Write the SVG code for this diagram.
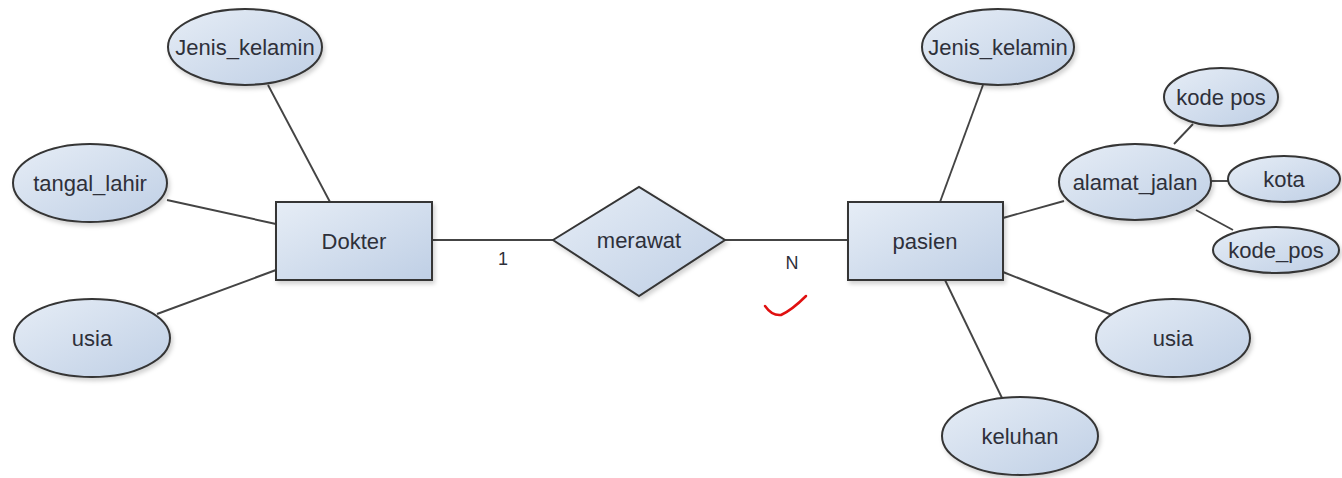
<svg xmlns="http://www.w3.org/2000/svg" width="1342" height="478" viewBox="0 0 1342 478">
<defs>
<linearGradient id="g" x1="0" y1="0" x2="1" y2="1">
<stop offset="0" stop-color="#e6edf6"/>
<stop offset="1" stop-color="#bfcfe5"/>
</linearGradient>
<filter id="sh" x="-10%" y="-10%" width="130%" height="140%">
<feDropShadow dx="2" dy="3" stdDeviation="2" flood-color="#000" flood-opacity="0.18"/>
</filter>
</defs>
<style>
.shape{fill:url(#g);stroke:#353535;stroke-width:2;filter:url(#sh)}
.conn line{stroke:#444;stroke-width:1.9}
text{font-family:"Liberation Sans",Arial,sans-serif;font-size:22px;fill:#2e303a;text-anchor:middle}
.card{font-size:18px}
</style>
<rect width="1342" height="478" fill="#fff"/>
<g id="connectors" class="conn">
<line x1="268" y1="85" x2="330" y2="202"/>
<line x1="167" y1="200" x2="276" y2="224"/>
<line x1="157" y1="314" x2="276" y2="270"/>
<line x1="432" y1="240" x2="553" y2="240"/>
<line x1="725" y1="240" x2="848" y2="240"/>
<line x1="983" y1="85" x2="940" y2="202"/>
<line x1="1003" y1="218" x2="1064" y2="201"/>
<line x1="1174" y1="144" x2="1193" y2="124"/>
<line x1="1211" y1="181" x2="1229" y2="181"/>
<line x1="1196" y1="210" x2="1233" y2="230"/>
<line x1="1003" y1="272" x2="1112" y2="315"/>
<line x1="945" y1="280" x2="1002" y2="398"/>
</g>
<g id="jk_dokter"><ellipse class="shape" cx="245" cy="47" rx="77" ry="38"/><text x="245" y="55">Jenis_kelamin</text></g>
<g id="tanggal_lahir"><ellipse class="shape" cx="90" cy="183" rx="77" ry="39"/><text x="90" y="191">tangal_lahir</text></g>
<g id="usia_dokter"><ellipse class="shape" cx="92" cy="338" rx="78" ry="39"/><text x="92" y="346">usia</text></g>
<g id="dokter"><rect class="shape" x="276" y="202" width="156" height="78"/><text x="354" y="249">Dokter</text></g>
<g id="merawat"><polygon class="shape" points="553,240 639,187 725,240 639,296"/><text x="639" y="248">merawat</text></g>
<g id="card1"><text class="card" x="503" y="265">1</text></g>
<g id="cardN"><text class="card" x="792" y="269">N</text></g>
<g id="pasien"><rect class="shape" x="848" y="202" width="155" height="78"/><text x="925" y="249">pasien</text></g>
<g id="jk_pasien"><ellipse class="shape" cx="998" cy="47" rx="76" ry="38"/><text x="998" y="55">Jenis_kelamin</text></g>
<g id="alamat_jalan"><ellipse class="shape" cx="1135" cy="182" rx="76" ry="38"/><text x="1135" y="190">alamat_jalan</text></g>
<g id="kode_pos1"><ellipse class="shape" cx="1221" cy="97" rx="57" ry="29"/><text x="1221" y="105">kode pos</text></g>
<g id="kota"><ellipse class="shape" cx="1284" cy="179" rx="56" ry="23"/><text x="1284" y="187">kota</text></g>
<g id="kode_pos2"><ellipse class="shape" cx="1276" cy="250" rx="63" ry="23"/><text x="1276" y="258">kode_pos</text></g>
<g id="usia_pasien"><ellipse class="shape" cx="1173" cy="338" rx="77" ry="39"/><text x="1173" y="346">usia</text></g>
<g id="keluhan"><ellipse class="shape" cx="1020" cy="436" rx="78" ry="39"/><text x="1020" y="444">keluhan</text></g>
<path id="checkmark" d="M765,306 Q772,316 781,315 Q792,310 806,296" fill="none" stroke="#e01010" stroke-width="2.5" stroke-linecap="round"/>
</svg>
